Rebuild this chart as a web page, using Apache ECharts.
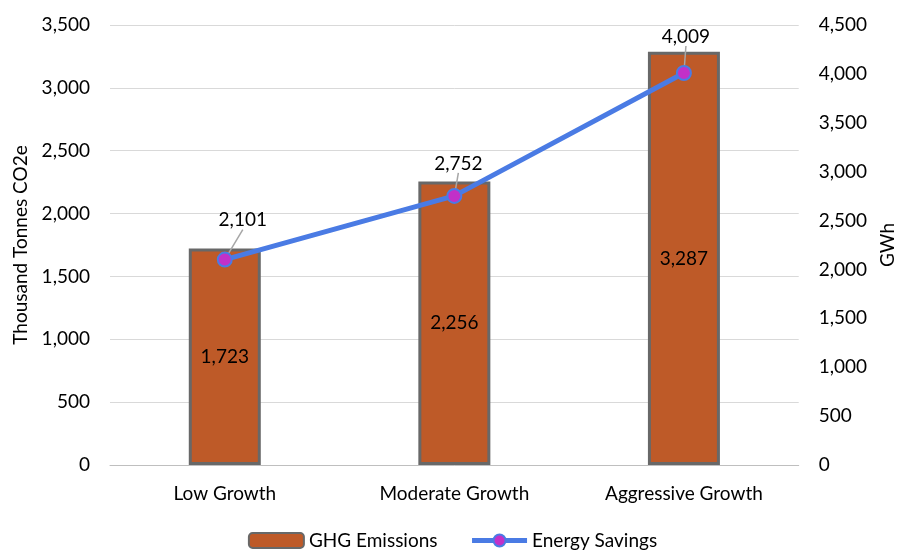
<!DOCTYPE html>
<html>
<head>
<meta charset="utf-8">
<script src="https://cdn.jsdelivr.net/npm/echarts@6/dist/echarts.min.js"></script>
<style>
  html, body { margin: 0; padding: 0; background: #fff; }
  #chart { width: 905px; height: 555px; }
</style>
</head>
<body>
<div id="chart"></div>
<script>
// scenario data
const scenarios = ['Low Growth', 'Moderate Growth', 'Aggressive Growth'];
const ghgEmissions = [1723, 2256, 3287];
const energySavings = [2101, 2752, 4009];
// nudges for the line labels (px)
const lineLabelDx = [18, 4, 2];
const lineLabelDy = [-16, -9, -13];

const fontFamily = 'Lato, "Open Sans", sans-serif';
const fs = 19;
const fmt = v => v.toLocaleString('en-US');

const myChart = echarts.init(document.getElementById('chart'));

myChart.setOption({
    animation: false,
    textStyle: { fontFamily: fontFamily, color: '#000' },
    grid: { left: 110, right: 103, top: 25, bottom: 90 },
    legend: {
        bottom: 0,
        left: 'center',
        itemWidth: 55,
        itemHeight: 15,
        itemGap: 32,
        textStyle: { fontSize: fs, color: '#000', fontFamily: fontFamily },
        data: [
            { name: 'GHG Emissions' },
            { name: 'Energy Savings', lineStyle: { width: 5 } }
        ]
    },
    xAxis: {
        type: 'category',
        data: scenarios,
        axisTick: { show: false },
        axisLine: { lineStyle: { color: '#bfbfbf', width: 1 } },
        axisLabel: { fontSize: fs, color: '#000', margin: 19 }
    },
    yAxis: [
        {
            type: 'value',
            min: 0, max: 3500, interval: 500,
            name: 'Thousand Tonnes CO2e',
            nameLocation: 'middle',
            nameGap: 80,
            nameTextStyle: { fontSize: fs, color: '#000' },
            axisLabel: { fontSize: fs, color: '#000', margin: 20, formatter: fmt },
            splitLine: { lineStyle: { color: '#d9d9d9' } }
        },
        {
            type: 'value',
            min: 0, max: 4500, interval: 500,
            name: 'GWh',
            nameLocation: 'middle',
            nameGap: 70,
            nameRotate: 90,
            nameTextStyle: { fontSize: fs, color: '#000' },
            axisLabel: { fontSize: fs, color: '#000', margin: 20, formatter: fmt },
            splitLine: { show: false }
        }
    ],
    series: [
        {
            name: 'GHG Emissions',
            type: 'bar',
            data: ghgEmissions,
            barWidth: 72,
            itemStyle: { color: '#BE5A28', borderColor: '#686868', borderWidth: 3 },
            label: {
                show: true,
                position: 'inside',
                fontSize: fs,
                color: '#000',
                formatter: p => fmt(p.value)
            }
        },
        {
            name: 'Energy Savings',
            type: 'line',
            yAxisIndex: 1,
            data: energySavings,
            symbol: 'circle',
            symbolSize: 14,
            lineStyle: { color: '#4A7BE4', width: 5 },
            itemStyle: { color: '#C230C8', borderColor: '#4A7BE4', borderWidth: 2 },
            label: {
                show: true,
                position: 'top',
                distance: 6,
                fontSize: fs,
                color: '#000',
                formatter: p => fmt(p.value)
            },
            labelLayout: p => ({ dx: lineLabelDx[p.dataIndex], dy: lineLabelDy[p.dataIndex] }),
            labelLine: { show: true, lineStyle: { color: '#a6a6a6', width: 1.5 } },
            z: 5
        }
    ]
});
</script>
</body>
</html>
